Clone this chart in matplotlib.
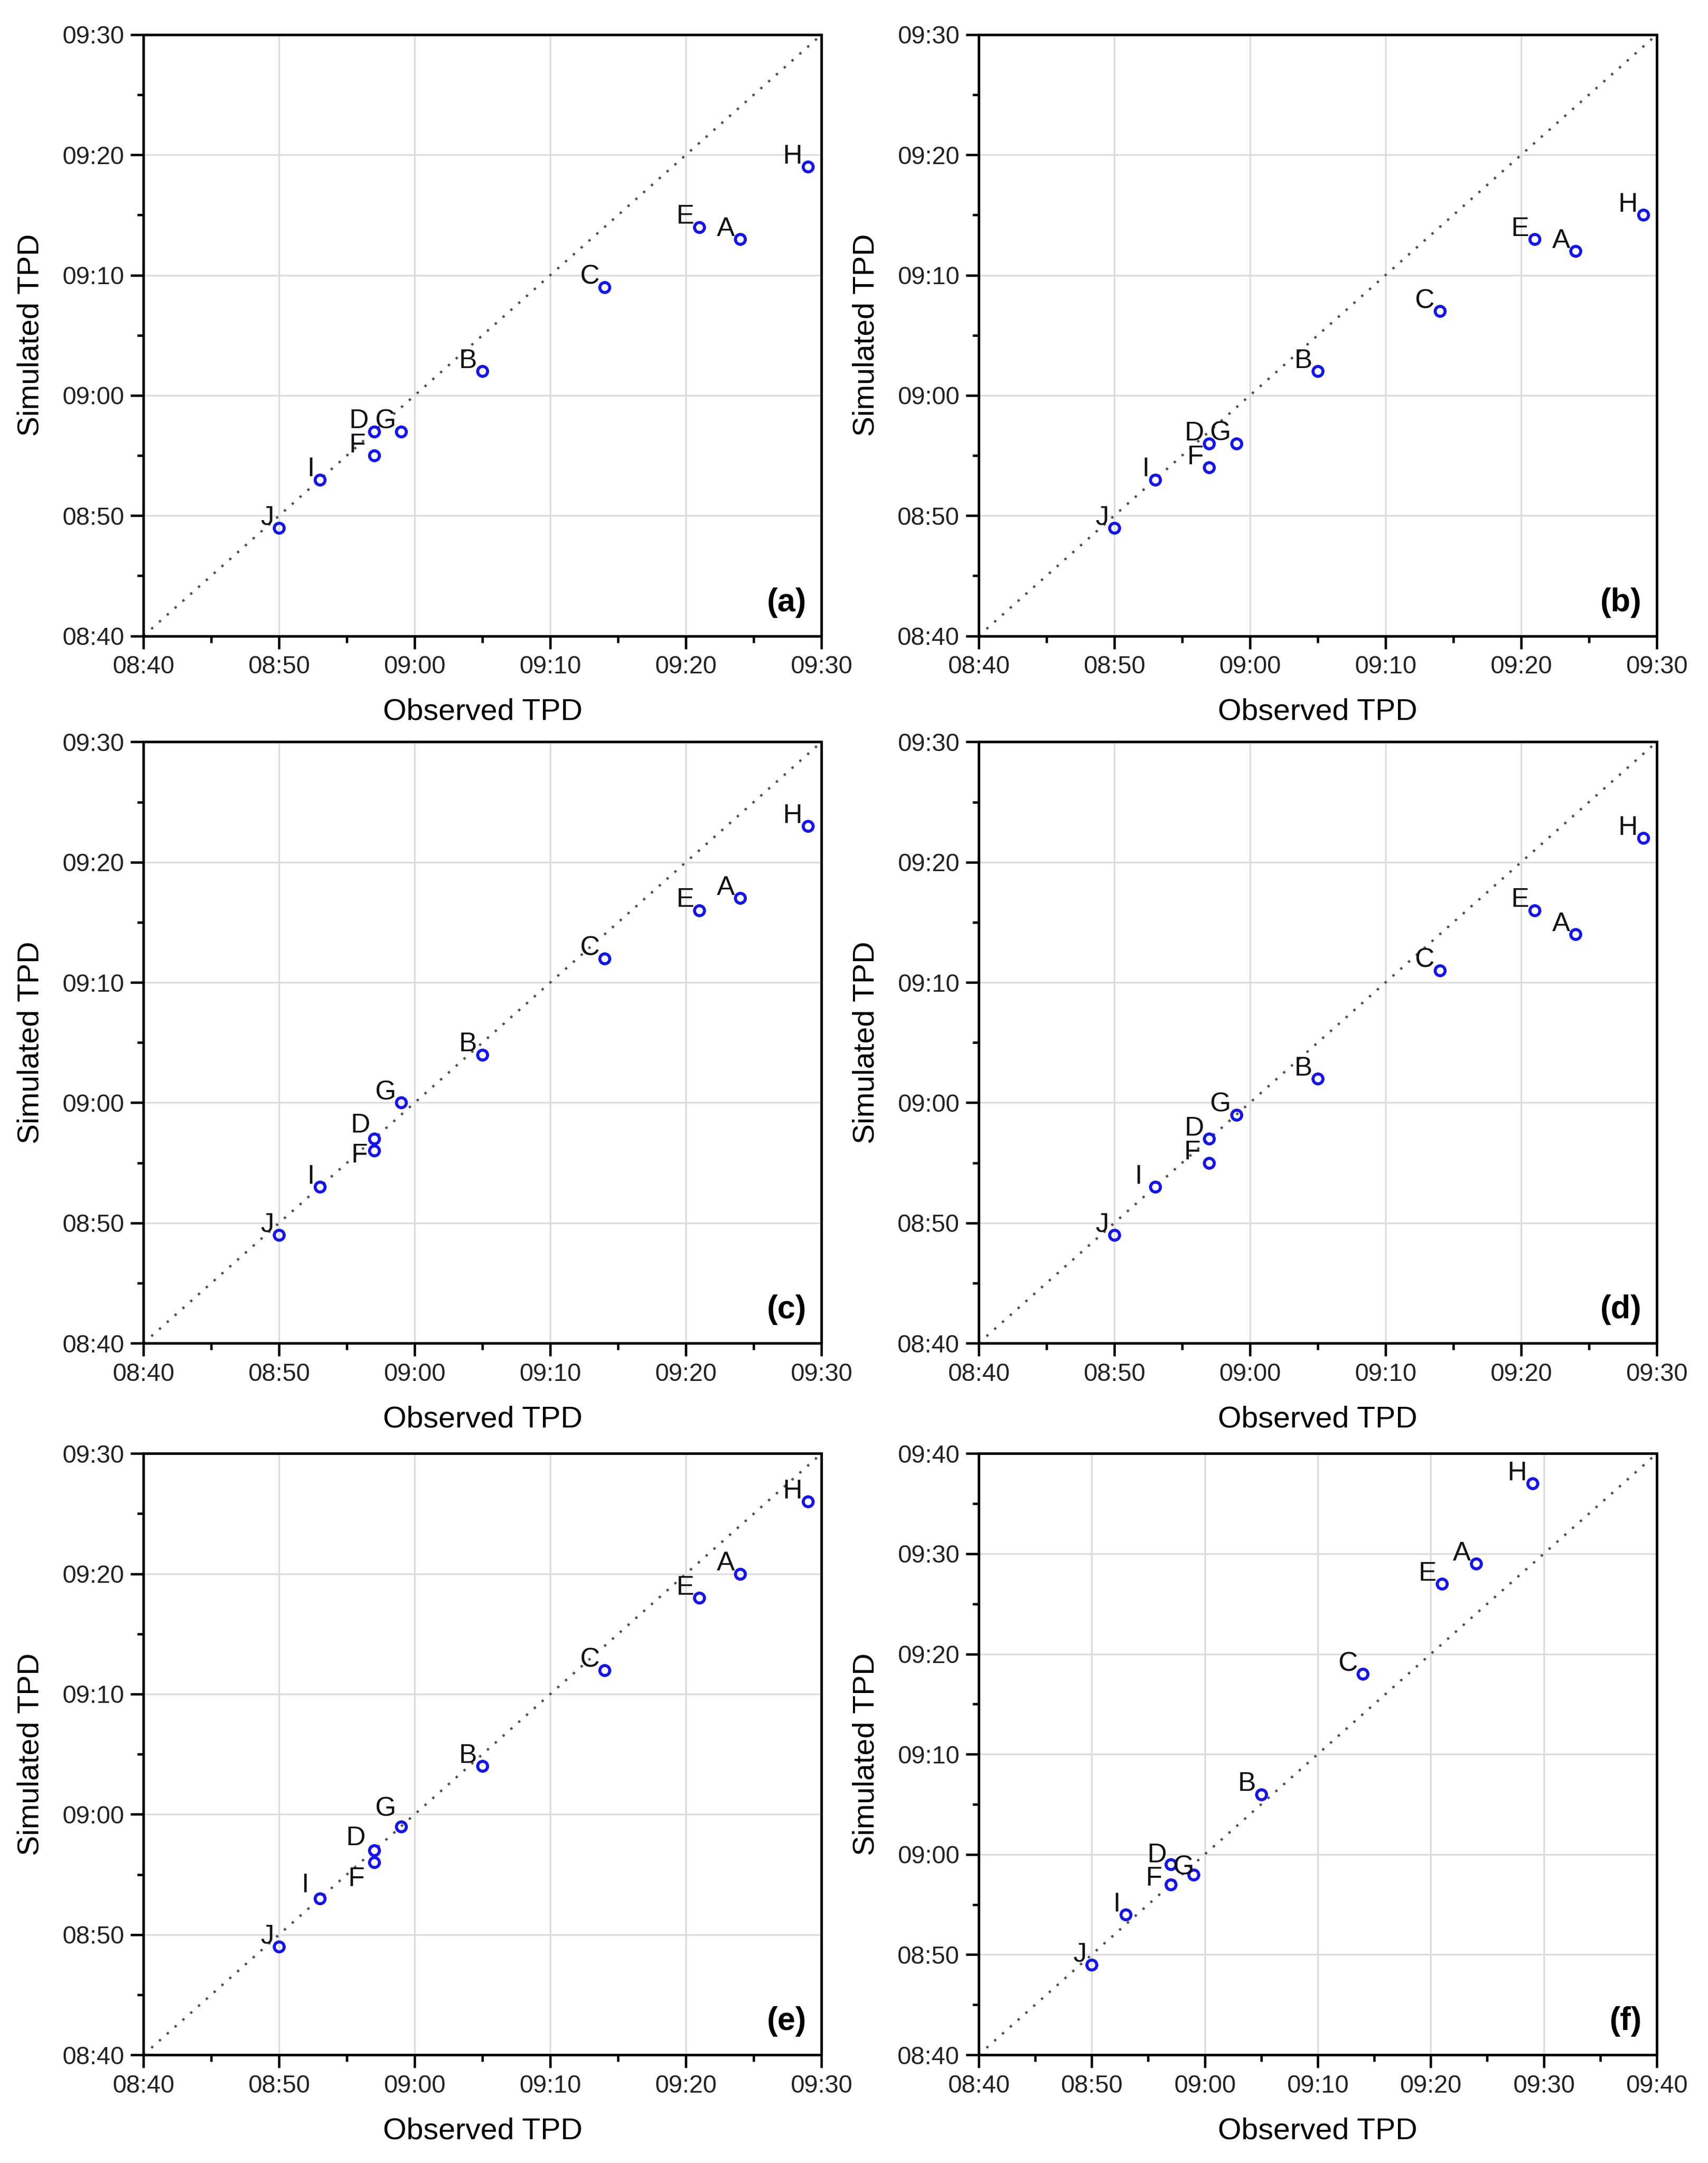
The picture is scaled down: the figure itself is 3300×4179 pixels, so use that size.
import numpy as np
import matplotlib.pyplot as plt
from matplotlib.ticker import MultipleLocator, FuncFormatter

plt.rcParams['font.family'] = ['Liberation Sans', 'DejaVu Sans']

# Stations and observed arrival times
stations = ['A', 'B', 'C', 'D', 'E', 'F', 'G', 'H', 'I', 'J']
observed = ['09:24', '09:05', '09:14', '08:57', '09:21', '08:57', '08:59', '09:29', '08:53', '08:50']

# Simulated times per scenario
sim_a = ['09:13', '09:02', '09:09', '08:57', '09:14', '08:55', '08:57', '09:19', '08:53', '08:49']
sim_b = ['09:12', '09:02', '09:07', '08:56', '09:13', '08:54', '08:56', '09:15', '08:53', '08:49']
sim_c = ['09:17', '09:04', '09:12', '08:57', '09:16', '08:56', '09:00', '09:23', '08:53', '08:49']
sim_d = ['09:14', '09:02', '09:11', '08:57', '09:16', '08:55', '08:59', '09:22', '08:53', '08:49']
sim_e = ['09:20', '09:04', '09:12', '08:57', '09:18', '08:56', '08:59', '09:26', '08:53', '08:49']
sim_f = ['09:29', '09:06', '09:18', '08:59', '09:27', '08:57', '08:58', '09:37', '08:54', '08:49']

panels = ['(a)', '(b)', '(c)', '(d)', '(e)', '(f)']
sims = [sim_a, sim_b, sim_c, sim_d, sim_e, sim_f]
upper = ['09:30', '09:30', '09:30', '09:30', '09:30', '09:40']

# label offsets (points) where labels were nudged by hand
default_off = (-2.5, 1.5)
label_off = {
    ('(a)', 'F'): (-3.8, 1.5),
    ('(c)', 'D'): (-1.7, 3.0),
    ('(c)', 'F'): (-3.0, -5.5),
    ('(d)', 'I'): (-6.0, 1.5),
    ('(d)', 'F'): (-4.0, 1.5),
    ('(e)', 'D'): (-4.0, 2.4),
    ('(e)', 'F'): (-4.4, -11.0),
    ('(e)', 'G'): (-2.4, 4.8),
    ('(e)', 'I'): (-5.0, 2.8),
    ('(f)', 'D'): (-1.8, 1.0),
    ('(f)', 'G'): (0.2, 0.0),
    ('(f)', 'F'): (-4.0, -0.5),
}


def to_min(s):
    h, m = s.split(':')
    return int(h) * 60 + int(m)


def fmt(v, pos):
    v = int(round(v))
    return '%02d:%02d' % (v // 60, v % 60)


obs = np.array([to_min(s) for s in observed])
lo = to_min('08:40')

fig = plt.figure(figsize=(11, 13.93), dpi=300)

lefts = [0.084, 0.573]
bottoms = [0.706, 0.379, 0.050]
w, h = 0.397, 0.278

for i, (lab, sim, up) in enumerate(zip(panels, sims, upper)):
    ax = fig.add_axes([lefts[i % 2], bottoms[i // 2], w, h])
    hi = to_min(up)
    simv = np.array([to_min(s) for s in sim])

    ax.plot([lo, hi], [lo, hi], ls=(0, (1, 3.4)), color='#505050', lw=1.1, zorder=2)
    ax.plot(obs, simv, 'o', ms=4.6, mfc='none', mec='#1414f0', mew=1.4, zorder=3)
    for s, x, y in zip(stations, obs, simv):
        off = label_off.get((lab, s), default_off)
        ax.annotate(s, (x, y), xytext=off, textcoords='offset points',
                    ha='right', va='baseline', fontsize=12.5, color='#111111')

    ax.set_xlim(lo, hi)
    ax.set_ylim(lo, hi)
    for a in (ax.xaxis, ax.yaxis):
        a.set_major_locator(MultipleLocator(10))
        a.set_minor_locator(MultipleLocator(5))
        a.set_major_formatter(FuncFormatter(fmt))
    ax.grid(True, which='major', color='#dcdcdc', lw=0.8)
    ax.set_axisbelow(True)
    ax.tick_params(which='major', direction='out', length=6, width=1.1,
                   labelsize=11.5, labelcolor='#222222', pad=3)
    ax.tick_params(which='minor', direction='out', length=3, width=1.1)
    for sp in ax.spines.values():
        sp.set_linewidth(1.2)
    ax.set_xlabel('Observed TPD', fontsize=14, labelpad=9)
    ax.set_ylabel('Simulated TPD', fontsize=14, labelpad=8)
    ax.text(0.978, 0.03, lab, transform=ax.transAxes, ha='right', va='bottom',
            fontsize=15, fontweight='bold')

fig.savefig('out.png', dpi=300)
